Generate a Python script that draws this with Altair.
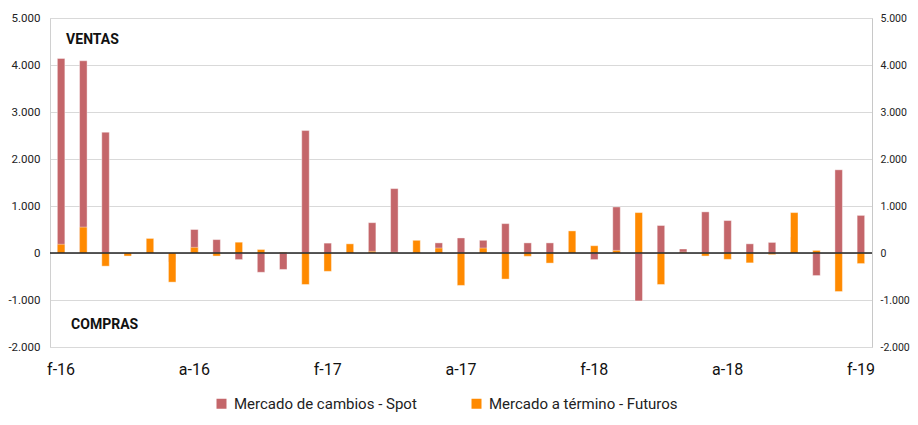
import altair as alt
import pandas as pd

months = ["2016-02","2016-03","2016-04","2016-05","2016-06","2016-07","2016-08","2016-09","2016-10","2016-11","2016-12",
          "2017-01","2017-02","2017-03","2017-04","2017-05","2017-06","2017-07","2017-08","2017-09","2017-10","2017-11","2017-12",
          "2018-01","2018-02","2018-03","2018-04","2018-05","2018-06","2018-07","2018-08","2018-09","2018-10","2018-11","2018-12",
          "2019-01","2019-02"]
spot = [4140, 4090, 2570, -30, 20, -190, 500, 285, -140, -410, -350,
        2605, 210, 20, 645, 1370, 10, 215, 320, 270, 625, 215, 215,
        30, -140, 980, -1020, 585, 85, 875, 690, 195, 225, 340, -480,
        1770, 800]
futuros = [185, 550, -280, -65, 310, -620, 120, -65, 230, 75, 15,
           -670, -390, 195, 35, 15, 270, 105, -690, 105, -555, -70, -215,
           470, 155, 55, 860, -670, 20, -65, -135, -210, -35, 860, 55,
           -820, -225]
series_names = ["Mercado de cambios - Spot", "Mercado a término - Futuros"]
series_colors = ["#C4666A", "#FF8A00"]
tick_months = ["2016-02","2016-08","2017-02","2017-08","2018-02","2018-08","2019-02"]
tick_labels = ["f-16","a-16","f-17","a-17","f-18","a-18","f-19"]
y_ticks = [-2000, -1000, 0, 1000, 2000, 3000, 4000, 5000]
annot_text = ["VENTAS", "COMPRAS"]
annot_value = [4540, -1540]

rows = []
for m, s, f in zip(months, spot, futuros):
    rows.append({"mes": m, "serie": series_names[0], "valor": s})
    rows.append({"mes": m, "serie": series_names[1], "valor": f})
df = pd.DataFrame(rows)

FONT = "Roboto"
label_expr = "[" + ",".join("'%s'" % t for t in tick_labels) + "][indexof([" + ",".join("'%s'" % t for t in tick_months) + "], datum.value)]"
num_expr = "replace(replace(format(datum.value, ','), ',', '.'), '\u2212', '-')"

xscale = alt.Scale(domain=months, paddingInner=0, paddingOuter=0)
x_axis = alt.Axis(values=tick_months, labelExpr=label_expr, title=None, domain=False, ticks=False,
                  grid=False, labelAngle=0, labelFont=FONT, labelFontSize=16, labelColor="#111",
                  labelPadding=14, labelBaseline="top")
x_enc = alt.X("mes:O", sort=months, scale=xscale, axis=x_axis)

yscale = alt.Scale(domain=[-2000, 5000], nice=False, zero=False)

color_enc = alt.Color("serie:N", scale=alt.Scale(domain=series_names, range=series_colors),
                      legend=alt.Legend(title=None, orient="none", legendX=164, legendY=378, direction="horizontal",
                                        symbolType="square", symbolSize=100, symbolStrokeWidth=0,
                                        labelFont=FONT, labelFontSize=15, labelColor="#222", labelLimit=400,
                                        labelOffset=5, columnPadding=52))

base = alt.Chart(df)

spot_layer = base.transform_filter(alt.datum.serie == series_names[0]).mark_bar(
    size=7.5, stroke="white", strokeWidth=0.8, strokeOpacity=0.5
).encode(
    x=x_enc,
    y=alt.Y("valor:Q", scale=yscale,
            axis=alt.Axis(values=y_ticks, labelExpr=num_expr, title=None, orient="left", grid=True,
                          gridColor="#D9D9D9", gridWidth=1, domain=True, domainColor="#D0D0D0", ticks=False,
                          labelFont=FONT, labelFontSize=11.5, labelColor="#222", labelPadding=10)),
    color=color_enc,
)

fut_layer = base.transform_filter(alt.datum.serie == series_names[1]).mark_bar(
    size=7.5, stroke="white", strokeWidth=0.8, strokeOpacity=0.5
).encode(
    x=x_enc,
    y=alt.Y("valor:Q", scale=yscale,
            axis=alt.Axis(values=y_ticks, labelExpr=num_expr, title=None, orient="right", grid=False,
                          domain=True, domainColor="#C8C8C8", ticks=False,
                          labelFont=FONT, labelFontSize=10.5, labelColor="#222", labelPadding=8)),
    color=color_enc,
)

zero_rule = alt.Chart(pd.DataFrame({"v": [0]})).mark_rule(color="#222", strokeWidth=1.5).encode(
    y=alt.Y("v:Q", scale=yscale, axis=None)
)

ann = pd.DataFrame({"mes": [months[0], months[0]], "v": annot_value, "t": annot_text})
ventas = alt.Chart(ann.iloc[[0]]).mark_text(font=FONT, fontWeight="bold", fontSize=14, align="left",
                                             baseline="middle", dx=5, color="#111").encode(
    x=x_enc, y=alt.Y("v:Q", scale=yscale, axis=None), text="t:N")
compras = alt.Chart(ann.iloc[[1]]).mark_text(font=FONT, fontWeight="bold", fontSize=14, align="left",
                                              baseline="middle", dx=10, color="#111").encode(
    x=x_enc, y=alt.Y("v:Q", scale=yscale, axis=None), text="t:N")

chart = alt.layer(spot_layer, fut_layer, zero_rule, ventas, compras).resolve_scale(y="independent").properties(
    width=822, height=329,
    autosize=alt.AutoSizeParams(type="none"),
    padding={"left": 42, "top": 10, "right": 38, "bottom": 70},
).configure_view(stroke=None).configure(background="white")

chart.save("out.html", embed_options={"renderer": "svg", "actions": False})
